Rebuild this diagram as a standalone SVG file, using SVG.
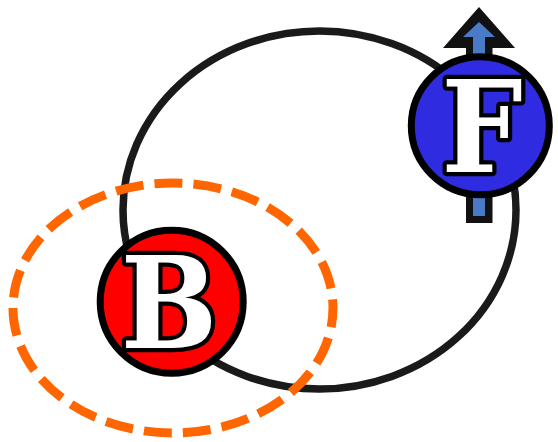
<svg xmlns="http://www.w3.org/2000/svg" width="558" height="442" viewBox="0 0 558 442">
<style>
.letter{font-family:"DejaVu Serif Condensed","DejaVu Serif","Liberation Serif",serif;font-stretch:condensed;font-weight:bold;font-size:127px;fill:#ffffff;stroke:#000000;stroke-width:8.5;stroke-linejoin:round;paint-order:stroke;text-anchor:middle}
.node{stroke:#000000;stroke-width:7}
</style>
<g id="connectors">
<ellipse id="orbit" cx="319.5" cy="210" rx="196.5" ry="179" fill="none" stroke="#1a1a1a" stroke-width="7.5"/>
<path id="dashed-orbit" d="M 13,308 A 160,125 0 1,0 333,308 A 160,125 0 1,0 13,308" fill="none" stroke="#ff6600" stroke-width="9" stroke-dasharray="28 11.08"/>
</g>
<g id="node-B">
<circle cx="171.7" cy="301.7" r="71.5" fill="#ff0000" class="node"/>
<text x="169" y="348" class="letter">B</text>
</g>
<g id="node-F">
<g id="spin-arrow">
<polygon points="479,7 515,48 492.5,48 492.5,223 466,223 466,48 443,48" fill="#111111"/>
<polygon points="479,22 495,37 485,37 485,216 473,216 473,37 463,37" fill="#4a7bc8"/>
</g>
<circle cx="480.3" cy="125.8" r="69" fill="#2e2be0" class="node"/>
<text x="482" y="172" class="letter">F</text>
</g>
</svg>
